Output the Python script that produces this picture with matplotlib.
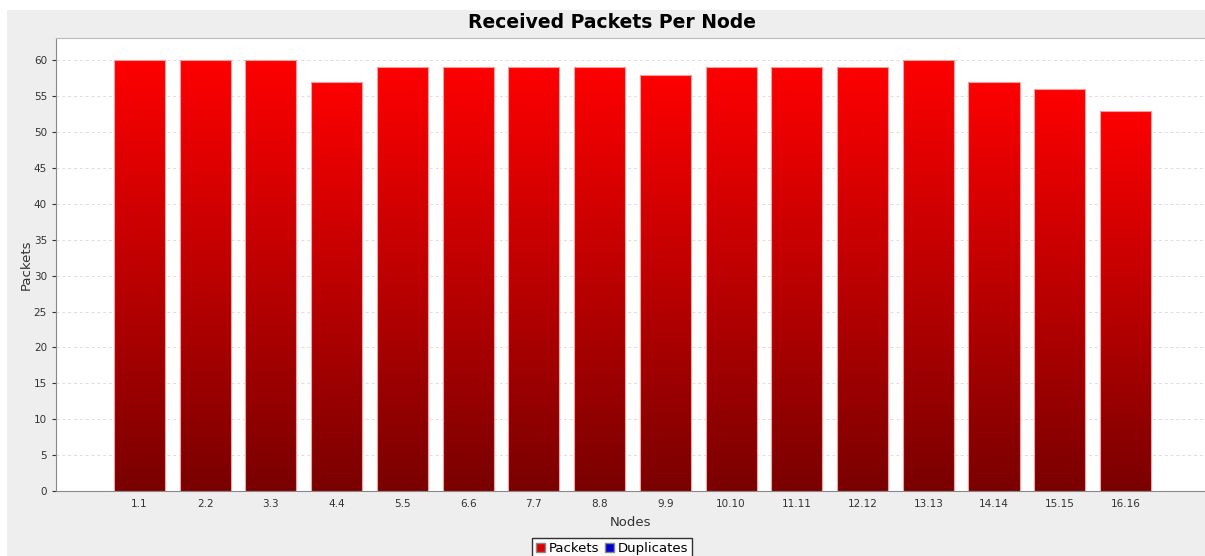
import matplotlib
matplotlib.use('Agg')
import matplotlib.pyplot as plt
import numpy as np
from matplotlib.patches import Rectangle

# Data
nodes = ['1.1', '2.2', '3.3', '4.4', '5.5', '6.6', '7.7', '8.8',
         '9.9', '10.10', '11.11', '12.12', '13.13', '14.14', '15.15', '16.16']
packets = [60, 60, 60, 57, 59, 59, 59, 59, 58, 59, 59, 59, 60, 57, 56, 53]
y_ticks = list(range(0, 61, 5))

W, H = 1205, 556
fig = plt.figure(figsize=(W / 100, H / 100), dpi=100, facecolor='white')

# Grey panel behind the chart
fig.patches.append(Rectangle((7 / W, 0), 1 - 7 / W, 1 - 10 / H,
                             transform=fig.transFigure, facecolor='#eeeeee',
                             edgecolor='none', zorder=-10))

ax = fig.add_axes([56 / W, 1 - 491 / H, (W - 56) / W, (491 - 38) / H])
ax.set_zorder(1)
ax.set_facecolor('white')

x = np.arange(len(nodes))
width = 0.776
grad = np.linspace(0, 1, 256).reshape(-1, 1)
cmap = matplotlib.colors.LinearSegmentedColormap.from_list('redgrad', ['#7a0000', '#ff0000'])

# Gradient bars: an image per bar, clipped to the bar's rectangle
for xi, v in zip(x, packets):
    rect = Rectangle((xi - width / 2, 0), width, v, facecolor='none',
                     edgecolor='#f4a0a0', linewidth=0.8, zorder=3)
    ax.add_patch(rect)
    img = ax.imshow(grad, extent=(xi - width / 2, xi + width / 2, 0, v + 0.5),
                    origin='lower', cmap=cmap, aspect='auto', zorder=2,
                    interpolation='nearest')
    img.set_clip_path(rect)

ax.set_xlim(-1.27, len(nodes) - 1 + 1.21)
ax.set_ylim(0, 63.1)
ax.set_yticks(y_ticks)
ax.set_xticks(x)
ax.set_xticklabels(nodes)
ax.tick_params(axis='x', length=0, labelsize=7.5, pad=6, colors='#333333')
ax.tick_params(axis='y', length=3, labelsize=7.5, colors='#333333', direction='out')
ax.yaxis.grid(True, linestyle=(0, (3, 3)), color='#dddddd', linewidth=0.7, zorder=0)
ax.set_axisbelow(True)

for side in ['left', 'bottom']:
    ax.spines[side].set_color('#888888')
ax.spines['top'].set_color('#bbbbbb')
ax.spines['right'].set_visible(False)

ax.set_ylabel('Packets', fontsize=9.5, color='#333333', labelpad=1)
ax.set_xlabel('Nodes', fontsize=9.5, color='#333333', labelpad=5)

fig.text(612 / W, 1 - 22 / H, 'Received Packets Per Node', ha='center', va='center',
         fontsize=13.5, fontweight='bold', color='black')

# Legend
h1 = Rectangle((0, 0), 1, 1, facecolor='#dd0000', edgecolor='#888888')
h2 = Rectangle((0, 0), 1, 1, facecolor='#0000cc', edgecolor='#888888')
leg = fig.legend([h1, h2], ['Packets', 'Duplicates'], loc='upper center',
                 bbox_to_anchor=(612 / W, 1 - 538 / H), ncol=2, fontsize=9.5,
                 frameon=True, fancybox=False, handlelength=0.7, handleheight=0.7,
                 handletextpad=0.3, columnspacing=0.4, borderpad=0.3,
                 borderaxespad=0)
leg.get_frame().set_edgecolor('black')
leg.get_frame().set_facecolor('white')
leg.get_frame().set_linewidth(1)

fig.savefig('out.png', dpi=100, facecolor='white')
